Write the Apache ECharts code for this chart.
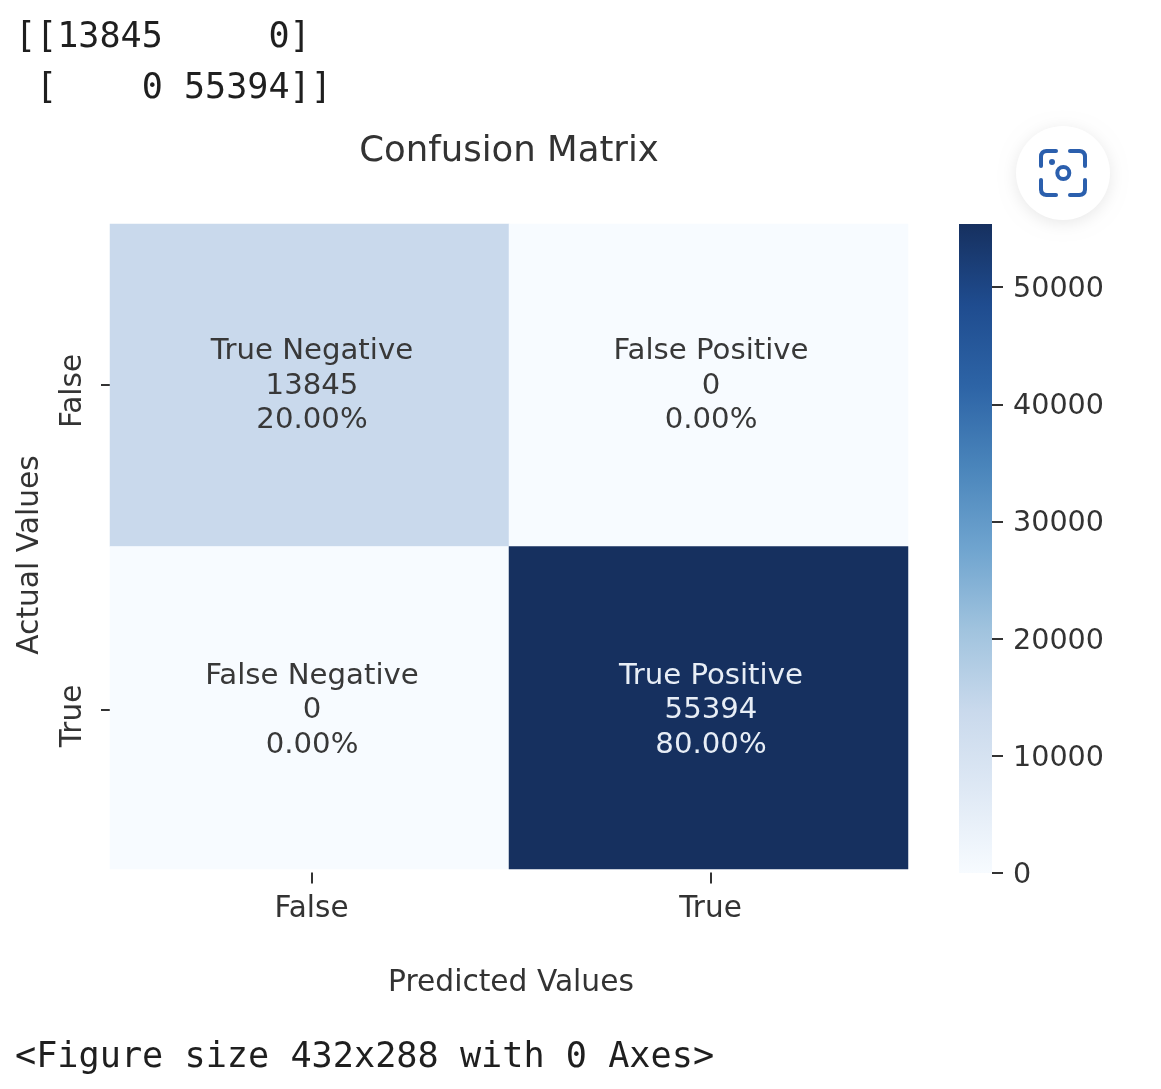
<!DOCTYPE html>
<html>
<head>
<meta charset="utf-8">
<style>html,body{margin:0;padding:0;background:#fff}#c{width:1161px;height:1089px}</style>
<script src="https://cdn.jsdelivr.net/npm/echarts@6/dist/echarts.min.js"></script>
</head>
<body>
<div id="c"></div>
<script>
const xCategories = ['False', 'True'];
const yCategories = ['False', 'True'];
const cellNames = [['True Negative', 'False Positive'], ['False Negative', 'True Positive']];
const cellCounts = [[13845, 0], [0, 55394]];
const cellPercents = [['20.00%', '0.00%'], ['0.00%', '80.00%']];
const colorbarTicks = [0, 10000, 20000, 30000, 40000, 50000];
const colorMax = 55394;
const blues = ['#f7fbff', '#dfe9f5', '#c9d9ec', '#a0c3de', '#6fa4cf', '#4a85bb', '#2d64a6', '#1f4c8f', '#16305f'];
const printedLines = ['[[13845     0]', ' [    0 55394]]'];
const footerLine = '<Figure size 432x288 with 0 Axes>';

const heatData = [];
yCategories.forEach((y, r) => xCategories.forEach((x, c) => {
  const v = cellCounts[r][c];
  heatData.push({
    value: [c, r, v], name: cellNames[r][c], pct: cellPercents[r][c],
    label: { color: v === colorMax ? '#e8eef6' : '#383838', offset: [2.5, r === 1 ? 3 : 1] }
  });
}));
const tickColor = '#333333';
const font = 'DejaVu Sans';
const mono = '"DejaVu Sans Mono"';
const blue = '#2b5fad';
const stroke = { fill: 'none', stroke: blue, lineWidth: 4, lineCap: 'round', lineJoin: 'round' };
// one bracket of the lens icon: straight, rounded corner, straight
const corner = (a, b, c, d, e) => [
  { type: 'polyline', shape: { points: [a, b] }, style: stroke, z: 12 },
  { type: 'bezierCurve', shape: { x1: b[0], y1: b[1], cpx1: c[0], cpy1: c[1], x2: d[0], y2: d[1] }, style: stroke, z: 12 },
  { type: 'polyline', shape: { points: [d, e] }, style: stroke, z: 12 }
];

const chart = echarts.init(document.getElementById('c'), null, { renderer: 'canvas' });
chart.setOption({
  animation: false,
  backgroundColor: '#ffffff',
  title: {
    text: 'Confusion Matrix', left: 504, top: 129, textAlign: 'center',
    textStyle: { fontFamily: font, fontSize: 35.5, fontWeight: 'normal', color: '#333333' }
  },
  grid: [
    { left: 110, top: 224, width: 798, height: 645 },
    { left: 959, top: 224, width: 33, height: 649 },
    { left: 112, top: 222.5, width: 798, height: 650 }
  ],
  xAxis: [
    { type: 'category', gridIndex: 0, data: xCategories, show: false },
    { type: 'category', gridIndex: 1, data: ['scale'], show: false },
    { type: 'category', gridIndex: 2, data: xCategories, name: 'Predicted Values', nameLocation: 'middle', nameGap: 96,
      nameTextStyle: { fontFamily: font, fontSize: 29.7, color: tickColor },
      axisLine: { show: false }, axisTick: { show: true, alignWithLabel: true, length: 11, lineStyle: { color: tickColor, width: 2 } },
      axisLabel: { fontFamily: font, fontSize: 29.5, color: tickColor, margin: 22 }, splitLine: { show: false } }
  ],
  yAxis: [
    { type: 'category', gridIndex: 0, data: yCategories, inverse: true, show: false },
    { type: 'value', gridIndex: 1, position: 'right', min: 0, max: colorMax,
      axisLine: { show: false }, splitLine: { show: false },
      axisTick: { show: true, length: 11, customValues: colorbarTicks, lineStyle: { color: tickColor, width: 2 } },
      axisLabel: { margin: 21, customValues: colorbarTicks, formatter: v => '{t|' + v + '}',
        rich: { t: { fontFamily: font, fontSize: 28.6, color: tickColor, padding: [5, 0, 0, 0] } } } },
    { type: 'category', gridIndex: 2, data: yCategories, inverse: true, name: 'Actual Values', nameLocation: 'middle', nameGap: 67,
      nameTextStyle: { fontFamily: font, fontSize: 29.7, color: tickColor, padding: [0, 15, 0, 0] },
      axisLine: { show: false }, axisTick: { show: true, alignWithLabel: true, length: 11, lineStyle: { color: tickColor, width: 2 } },
      axisLabel: { fontFamily: font, fontSize: 29.5, color: tickColor, rotate: 90, margin: 24, align: 'center', verticalAlign: 'bottom', padding: [0, 12, 0, 0] },
      splitLine: { show: false } }
  ],
  visualMap: {
    show: false, type: 'continuous', seriesIndex: 0, dimension: 2, min: 0, max: colorMax, inRange: { color: blues }
  },
  series: [
    { type: 'heatmap', xAxisIndex: 0, yAxisIndex: 0, data: heatData,
      label: { show: true, fontFamily: font, fontSize: 29.2, lineHeight: 34.5,
        formatter: p => p.data.name + '\n' + p.data.value[2] + '\n' + p.data.pct },
      itemStyle: { borderWidth: 0 } },
    { type: 'bar', xAxisIndex: 1, yAxisIndex: 1, data: [colorMax], barWidth: '100%', silent: true,
      itemStyle: { color: new echarts.graphic.LinearGradient(0, 1, 0, 0,
        blues.map((c, i) => ({ offset: i / (blues.length - 1), color: c }))) } }
  ],
  graphic: [
    { type: 'text', left: 15, top: 20, style: { text: printedLines[0], fontFamily: mono, fontSize: 35.1, fill: '#1f1f1f' } },
    { type: 'text', left: 15, top: 71, style: { text: printedLines[1], fontFamily: mono, fontSize: 35.1, fill: '#1f1f1f' } },
    { type: 'text', left: 15, top: 1040, style: { text: footerLine, fontFamily: mono, fontSize: 35.2, fill: '#1f1f1f' } },
    { type: 'circle', shape: { cx: 1063, cy: 173, r: 47 }, style: { fill: '#fff', shadowBlur: 16, shadowColor: 'rgba(0,0,0,0.09)', shadowOffsetY: 3 }, z: 11 },
    { type: 'circle', shape: { cx: 1063.3, cy: 173, r: 6 }, style: { fill: 'none', stroke: blue, lineWidth: 4 }, z: 12 },
    { type: 'circle', shape: { cx: 1052, cy: 162, r: 3 }, style: { fill: blue }, z: 12 },
    ...corner([1041, 166], [1041, 157], [1041, 151], [1047, 151], [1056, 151]),
    ...corner([1070, 151], [1079, 151], [1085, 151], [1085, 157], [1085, 166]),
    ...corner([1041, 180], [1041, 189], [1041, 195], [1047, 195], [1056, 195]),
    ...corner([1070, 195], [1079, 195], [1085, 195], [1085, 189], [1085, 180])
  ]
});
</script>
</body>
</html>
